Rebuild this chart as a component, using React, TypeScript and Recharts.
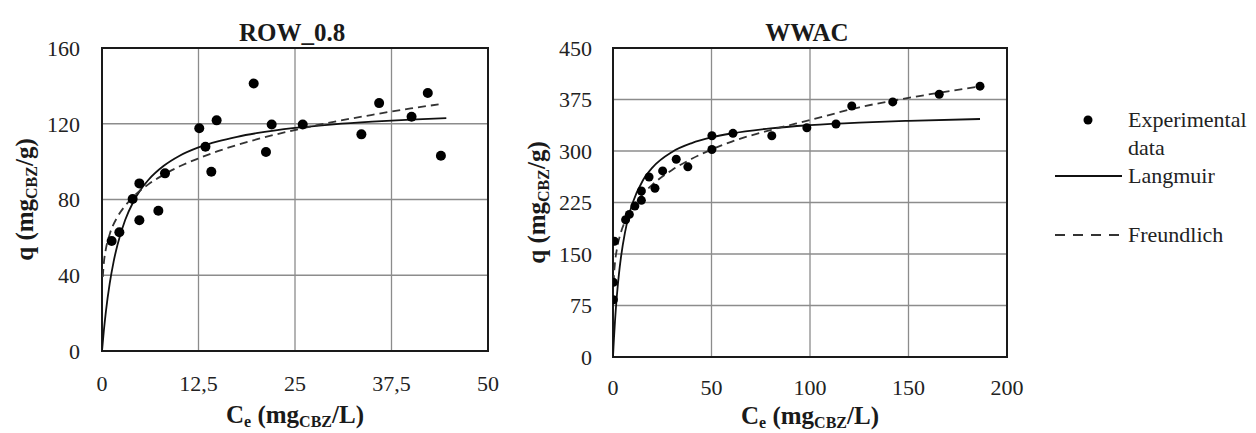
import React from 'react'
import { ScatterChart, Scatter, XAxis, YAxis, CartesianGrid, ReferenceArea, Legend } from 'recharts'

const FONT = 'Liberation Serif'
const INK = '#1a1a1a'
const GRID = '#8c8c8c'
const TICK = { fontSize: 22, fill: '#222', style: { fontFamily: FONT } }

// ROW_0.8 — experimental points and fitted isotherms
const rowExpC = [1.25, 2.25, 3.97, 4.84, 4.84, 7.3, 8.16, 12.6, 13.4, 14.85, 14.16, 19.65, 21.24, 21.98, 26.0, 33.6, 35.9, 40.1, 42.2, 43.9]
const rowExpQ = [58.1, 62.7, 80.3, 88.5, 69.0, 74.1, 93.8, 117.6, 107.9, 121.8, 94.7, 141.3, 105.1, 119.6, 119.6, 114.4, 130.9, 123.7, 136.2, 103.1]
const rowLangC = [0, 0.25, 0.5, 1, 1.5, 2, 3, 4, 5, 6, 8, 10, 12.5, 15, 17.5, 20, 25, 30, 35, 40, 44.6]
const rowLangQ = [0, 11.2, 20.7, 35.7, 47.1, 56.0, 69.2, 78.3, 85.1, 90.3, 97.8, 103.0, 107.5, 110.7, 113.1, 115.0, 117.8, 119.7, 121.1, 122.2, 123.0]
const rowFreuC = [0.1, 0.25, 0.5, 1, 2, 3, 4, 6, 8, 10, 12.5, 15, 20, 25, 30, 35, 40, 43.6]
const rowFreuQ = [39.1, 46.9, 53.8, 61.7, 70.8, 76.7, 81.2, 88.0, 93.1, 97.4, 101.7, 105.5, 111.7, 116.7, 121.0, 124.7, 128.1, 130.2]
const rowXTicks = [0, 12.5, 25, 37.5, 50]
const rowYTicks = [0, 40, 80, 120, 160]

// WWAC
const wwacExpC = [0.2, 0.2, 0.7, 6.4, 8.3, 11.1, 14.4, 14.4, 18.3, 21.3, 25.2, 32.1, 38.0, 50.2, 50.2, 60.9, 80.6, 98.4, 113.2, 121.2, 142.0, 165.6, 186.3]
const wwacExpQ = [83.4, 108.7, 168.6, 199.9, 207.7, 219.8, 228.1, 241.8, 262.2, 245.7, 271.0, 288.0, 276.9, 322.2, 302.2, 325.7, 322.2, 333.9, 339.3, 365.6, 371.5, 382.7, 394.4]
const wwacLangC = [0, 0.25, 0.5, 1, 2, 3, 4, 6, 8, 10, 15, 20, 30, 40, 50, 60, 80, 100, 125, 150, 186.3]
const wwacLangQ = [0, 14.5, 27.9, 51.7, 90.3, 120.3, 144.2, 180.0, 205.5, 224.6, 256.4, 275.9, 298.7, 311.5, 319.7, 325.5, 333.0, 337.6, 341.4, 344.0, 346.6]
const wwacFreuC = [0.3, 0.5, 1, 2, 4, 6, 10, 15, 20, 30, 40, 50, 60, 80, 100, 125, 150, 186.3]
const wwacFreuQ = [107.3, 119.0, 136.9, 157.5, 181.2, 196.7, 218.1, 236.8, 251.0, 272.4, 288.7, 302.1, 313.4, 330.5, 345.0, 363.6, 377.3, 394.1]
const wwacXTicks = [0, 50, 100, 150, 200]
const wwacYTicks = [0, 75, 150, 225, 300, 375, 450]

const zip = (c: number[], q: number[]) => c.map((v, i) => ({ c: v, q: q[i] }))

const txt = { fontFamily: FONT }

function XTitle({ vb, y }: { vb: any; y: number }) {
  const cx = (vb?.x ?? 0) + (vb?.width ?? 0) / 2
  return (
    <text x={cx} y={y} textAnchor="middle" style={txt} fontWeight="bold" fontSize={25} fill={INK}>
      C<tspan fontSize={16} dy={4}>e</tspan>
      <tspan dy={-4}>{' (mg'}</tspan>
      <tspan fontSize={16} dy={4}>CBZ</tspan>
      <tspan dy={-4}>/L)</tspan>
    </text>
  )
}

function YTitle({ vb, x }: { vb: any; x: number }) {
  const cy = (vb?.y ?? 0) + (vb?.height ?? 0) / 2
  return (
    <text x={x} y={cy} transform={`rotate(-90 ${x} ${cy})`} textAnchor="middle" style={txt} fontWeight="bold" fontSize={25} fill={INK}>
      {'q (mg'}
      <tspan fontSize={16} dy={4}>CBZ</tspan>
      <tspan dy={-4}>/g)</tspan>
    </text>
  )
}

function LegendBox() {
  return (
    <svg width={210} height={160} style={{ overflow: 'visible' }}>
      <circle cx={38} cy={20} r={4.5} fill="#000" />
      <text x={78} y={27} style={txt} fontSize={22} fill="#222">Experimental</text>
      <text x={78} y={55} style={txt} fontSize={22} fill="#222">data</text>
      <line x1={5} x2={72} y1={76} y2={76} stroke="#111" strokeWidth={1.8} />
      <text x={78} y={83} style={txt} fontSize={22} fill="#222">Langmuir</text>
      <line x1={5} x2={72} y1={135} y2={135} stroke="#333" strokeWidth={1.8} strokeDasharray="10 8" />
      <text x={78} y={142} style={txt} fontSize={22} fill="#222">Freundlich</text>
    </svg>
  )
}

type PanelProps = {
  width: number
  margin: { top: number; right: number; bottom: number; left: number }
  title: string
  xMax: number
  yMax: number
  xTicks: number[]
  yTicks: number[]
  exp: { c: number; q: number }[]
  lang: { c: number; q: number }[]
  freu: { c: number; q: number }[]
  xAxisHeight: number
  xTickSize: number
  yTickSize: number
  dotR: number
  xTitleY: number
  yTitleX: number
  fmtX?: (v: number) => string
  legend?: boolean
}

function Panel(p: PanelProps) {
  return (
    <ScatterChart width={p.width} height={433} margin={p.margin}>
      <CartesianGrid stroke={GRID} strokeWidth={1.3} />
      <XAxis type="number" dataKey="c" domain={[0, p.xMax]} ticks={p.xTicks} interval={0} allowDataOverflow
        tickFormatter={p.fmtX} tick={TICK} tickLine={false} axisLine={false} tickSize={p.xTickSize} height={p.xAxisHeight}
        label={{ content: (lp: any) => <XTitle vb={lp.viewBox} y={p.xTitleY} /> }} />
      <YAxis type="number" dataKey="q" domain={[0, p.yMax]} ticks={p.yTicks} interval={0} allowDataOverflow
        tick={TICK} tickLine={false} axisLine={false} tickSize={p.yTickSize} width={60}
        label={{ content: (lp: any) => <YTitle vb={lp.viewBox} x={p.yTitleX} /> }} />
      <ReferenceArea x1={0} x2={p.xMax} y1={0} y2={p.yMax} fill="none" stroke={INK} strokeWidth={2} fillOpacity={0}
        label={{ content: (lp: any) => {
          const vb = lp.viewBox ?? {}
          return <text x={(vb.x ?? 0) + (vb.width ?? 0) / 2 - 3} y={(vb.y ?? 0) - 7} textAnchor="middle" style={txt} fontWeight="bold" fontSize={25} fill={INK}>{p.title}</text>
        } }} />
      <Scatter name="Langmuir" data={p.lang} isAnimationActive={false} lineJointType="monotoneX"
        line={{ stroke: '#111', strokeWidth: 1.8 }} shape={() => <g />} legendType="none" />
      <Scatter name="Freundlich" data={p.freu} isAnimationActive={false} lineJointType="monotoneX"
        line={{ stroke: '#333', strokeWidth: 1.8, strokeDasharray: '8 5' }} shape={() => <g />} legendType="none" />
      <Scatter name="Experimental data" data={p.exp} isAnimationActive={false} fill="#000"
        shape={(s: any) => <circle cx={s.cx} cy={s.cy} r={p.dotR} fill="#000" />} />
      {p.legend && (
        <Legend layout="vertical" align="center" verticalAlign="middle" content={() => <LegendBox />}
          wrapperStyle={{ position: 'absolute', left: 550, top: 100, width: 210, height: 160 }} />
      )}
    </ScatterChart>
  )
}

export default function App() {
  return (
    <div style={{ position: 'absolute', left: 0, top: 0, width: 1256, height: 433, background: '#fff', fontFamily: FONT }}>
      <div style={{ position: 'absolute', left: 0, top: 0 }}>
        <Panel width={500} margin={{ top: 48, right: 12, bottom: 12, left: 42 }} title="ROW_0.8"
          xMax={50} yMax={160} xTicks={rowXTicks} yTicks={rowYTicks}
          exp={zip(rowExpC, rowExpQ)} lang={zip(rowLangC, rowLangQ)} freu={zip(rowFreuC, rowFreuQ)}
          xAxisHeight={70} xTickSize={22} yTickSize={20} dotR={5} xTitleY={423} yTitleX={32.5}
          fmtX={(v: number) => String(v).replace('.', ',')} />
      </div>
      <div style={{ position: 'absolute', left: 500, top: 0 }}>
        <Panel width={756} margin={{ top: 48, right: 249, bottom: 12, left: 53 }} title="WWAC"
          xMax={200} yMax={450} xTicks={wwacXTicks} yTicks={wwacYTicks}
          exp={zip(wwacExpC, wwacExpQ)} lang={zip(wwacLangC, wwacLangQ)} freu={zip(wwacFreuC, wwacFreuQ)}
          xAxisHeight={64} xTickSize={20} yTickSize={19} dotR={4.5} xTitleY={424} yTitleX={44.5} legend />
      </div>
    </div>
  )
}
